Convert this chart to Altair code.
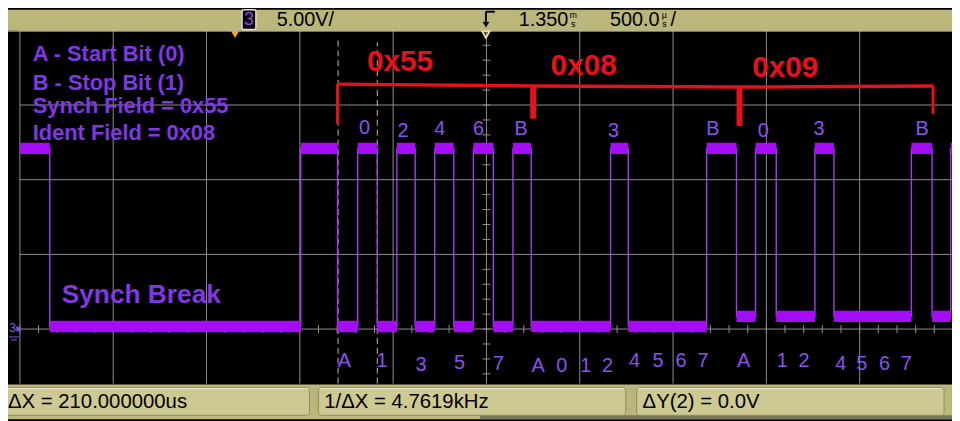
import altair as alt
import pandas as pd

# ---------------- data (time in microseconds, amplitude in volts) ----------------
seg_start = [-1150, -990, 355, 552, 660, 765, 870, 968, 1073, 1175, 1280, 1387,
             1492, 1590, 2015, 2110, 2530, 2690, 2792, 2903, 3110, 3212, 3627, 3738, 3838]
seg_end = [-990, 355, 552, 660, 765, 870, 968, 1073, 1175, 1280, 1387, 1492,
           1590, 2015, 2110, 2530, 2690, 2792, 2903, 3110, 3212, 3627, 3738, 3838, 3850]
seg_level = [12.1, 0.17, 12.1, 0.17, 12.1, 0.17, 12.1, 0.17, 12.1, 0.17, 12.1, 0.17,
             12.1, 0.17, 12.1, 0.17, 12.1, 0.85, 12.1, 0.85, 12.1, 0.85, 12.1, 0.85, 12.1]

grid_t = [-1150, -650, -150, 350, 850, 1350, 1850, 2350, 2850, 3350, 3850]
grid_v = [0, 5, 10, 15, 20]
cursor_t = [555, 765]

legend_text = ["A - Start Bit (0)", "B - Stop Bit (1)", "Synch Field = 0x55", "Ident Field = 0x08"]
legend_t = [-1081, -1081, -1081, -1081]
legend_v = [18.39, 16.47, 14.94, 13.15]

break_text = ["Synch Break"]
break_t = [-926]
break_v = [2.26]

top_lbl = ["0", "2", "4", "6", "B", "3", "B", "0", "3", "B"]
top_t = [696, 903, 1100, 1307, 1536, 2031, 2563, 2834, 3132, 3685]
top_v = [13.48, 13.28, 13.41, 13.41, 13.41, 13.28, 13.41, 13.28, 13.41, 13.41]

bot_lbl = ["A", "1", "3", "5", "7", "A", "0", "1", "2", "4", "5", "6", "7",
           "A", "1", "2", "4", "5", "6", "7"]
bot_t = [589, 791, 999, 1206, 1414, 1627, 1754, 1882, 1999, 2143, 2270, 2393, 2510,
         2728, 2935, 3052, 3249, 3361, 3483, 3600]
bot_v = [-2.12, -2.12, -2.39, -2.26, -2.32, -2.46, -2.46, -2.46, -2.46, -2.12, -2.12, -2.12, -2.12,
         -2.12, -2.12, -2.12, -2.32, -2.32, -2.32, -2.32]

hex_text = ["0x55", "0x08", "0x09"]
hex_t = [887, 1871, 2951]
hex_v = [17.86, 17.6, 17.5]

bracket_t = [552, 1600, 2706, 3743]
bracket_v = [16.4, 16.27, 16.2, 16.27]
bracket_end_v = [13.75, 14.08, 13.6, 14.4]

status_text = ["\u0394X = 210.000000us", "1/\u0394X = 4.7619kHz", "\u0394Y(2) = 0.0V"]

# ---------------- styling ----------------
X_DOM = [-1213.8, 3844.7]
Y_DOM = [-6.04, 21.38]
W, H = 952, 413

TRACE = "#a60df7"
EDGE = "#a23cf0"
LEG = "#7f38e3"
LBL = "#8a52f0"
RED = "#e8101a"
GRID = "#8f8f8f"
KHAKI = "#bbb77b"
BOX = "#cdc993"
NARROW = "Liberation Sans, Arial, sans-serif"
SANS = "Liberation Sans, Arial, sans-serif"

xs = alt.Scale(domain=X_DOM, nice=False, zero=False)
ys = alt.Scale(domain=Y_DOM, nice=False, zero=False)


def X(f):
    return alt.X(f, type="quantitative", scale=xs, axis=None)


def Y(f):
    return alt.Y(f, type="quantitative", scale=ys, axis=None)


one = pd.DataFrame({"k": [0]})


def rect(x1, x2, y1, y2, **kw):
    return alt.Chart(one).mark_rect(**kw).encode(
        x=alt.value(x1), x2=alt.value(x2), y=alt.value(y1), y2=alt.value(y2))


def rule(x1, y1, x2, y2, **kw):
    return alt.Chart(one).mark_rule(**kw).encode(
        x=alt.value(x1), x2=alt.value(x2), y=alt.value(y1), y2=alt.value(y2))


def txt(s, x, y, **kw):
    return alt.Chart(one).mark_text(text=s, **kw).encode(x=alt.value(x), y=alt.value(y))


def pt(x, y, **kw):
    return alt.Chart(one).mark_point(**kw).encode(x=alt.value(x), y=alt.value(y))


layers = []

# grid
vgrid = pd.DataFrame({"t": grid_t, "v1": [-3.65] * len(grid_t), "v2": [20] * len(grid_t)})
layers.append(alt.Chart(vgrid).mark_rule(color=GRID, strokeWidth=1).encode(
    x=X("t"), y=Y("v1"), y2="v2"))
hgrid = pd.DataFrame({"v": grid_v, "t1": [-1150] * len(grid_v), "t2": [3850] * len(grid_v)})
layers.append(alt.Chart(hgrid).mark_rule(color=GRID, strokeWidth=1).encode(
    y=Y("v"), x=X("t1"), x2="t2"))
htick = [grid_t[0] + 100 * k for k in range(51)]
htdf = pd.DataFrame({"t": htick, "v1": [-0.27] * len(htick), "v2": [0.27] * len(htick)})
layers.append(alt.Chart(htdf).mark_rule(color=GRID, strokeWidth=1).encode(
    x=X("t"), y=Y("v1"), y2="v2"))
vtick = list(range(-3, 21))
vtdf = pd.DataFrame({"v": vtick, "t1": [1329] * len(vtick), "t2": [1371] * len(vtick)})
layers.append(alt.Chart(vtdf).mark_rule(color=GRID, strokeWidth=1).encode(
    y=Y("v"), x=X("t1"), x2="t2"))

# cursors
cdf = pd.DataFrame({"t": cursor_t, "v1": [-3.65, -3.65], "v2": [19.5, 19.2]})
layers.append(alt.Chart(cdf).mark_rule(color="#f0c896", strokeWidth=1, strokeDash=[6, 4], opacity=0.9).encode(
    x=X("t"), y=Y("v1"), y2="v2"))

# trace
pts = []
for i, (a, b, lv) in enumerate(zip(seg_start, seg_end, seg_level)):
    pts.append({"i": 2 * i, "t": a, "v": lv})
    pts.append({"i": 2 * i + 1, "t": b, "v": lv})
layers.append(alt.Chart(pd.DataFrame(pts)).mark_line(color=EDGE, strokeWidth=1.4, clip=True).encode(
    x=X("t"), y=Y("v"), order="i:Q"))
bands = pd.DataFrame({"t1": seg_start, "t2": seg_end,
                      "lo": [v - 0.38 for v in seg_level], "hi": [v + 0.38 for v in seg_level]})
layers.append(alt.Chart(bands).mark_rect(color=TRACE, clip=True).encode(
    x=X("t1"), x2="t2", y=Y("lo"), y2="hi"))

# purple annotations
ldf = pd.DataFrame({"s": legend_text, "t": legend_t, "v": legend_v})
layers.append(alt.Chart(ldf).mark_text(font=SANS, fontWeight="bold", fontSize=22, color=LEG,
                                       align="left", baseline="middle").encode(
    x=X("t"), y=Y("v"), text="s:N"))
bdf = pd.DataFrame({"s": break_text, "t": break_t, "v": break_v})
layers.append(alt.Chart(bdf).mark_text(font=SANS, fontWeight="bold", fontSize=26.5, color=LEG,
                                       align="left", baseline="middle").encode(
    x=X("t"), y=Y("v"), text="s:N"))
tdf = pd.DataFrame({"s": top_lbl, "t": top_t, "v": top_v})
layers.append(alt.Chart(tdf).mark_text(font=SANS, fontSize=20, color=LBL,
                                       align="center", baseline="middle").encode(
    x=X("t"), y=Y("v"), text="s:N"))
btdf = pd.DataFrame({"s": bot_lbl, "t": bot_t, "v": bot_v})
layers.append(alt.Chart(btdf).mark_text(font=SANS, fontSize=20, color=LBL,
                                        align="center", baseline="middle").encode(
    x=X("t"), y=Y("v"), text="s:N"))

# red annotations
rdf = pd.DataFrame({"t": bracket_t, "v": bracket_v})
layers.append(alt.Chart(rdf).mark_line(color=RED, strokeWidth=3.5).encode(x=X("t"), y=Y("v")))
tk = pd.DataFrame({"t": bracket_t, "v1": bracket_v, "v2": bracket_end_v})
layers.append(alt.Chart(tk.iloc[[0, 3]]).mark_rule(color=RED, strokeWidth=3).encode(
    x=X("t"), y=Y("v1"), y2="v2"))
layers.append(alt.Chart(tk.iloc[[1, 2]]).mark_rule(color=RED, strokeWidth=6).encode(
    x=X("t"), y=Y("v1"), y2="v2"))
hdf = pd.DataFrame({"s": hex_text, "t": hex_t, "v": hex_v})
layers.append(alt.Chart(hdf).mark_text(font=SANS, fontWeight="bold", fontSize=30, color=RED,
                                       align="center", baseline="middle").encode(
    x=X("t"), y=Y("v"), text="s:N"))

# ground marker on the left
layers.append(txt("3", 1, 321, font=SANS, fontSize=13, color=LBL, align="left", baseline="middle"))
layers.append(pt(11, 322, shape="triangle-right", size=35, filled=True, color=LBL, opacity=1))
layers.append(rule(1, 330, 11, 330, color=LBL, strokeWidth=1))
layers.append(rule(3, 333, 9, 333, color=LBL, strokeWidth=1))

# top status bar
layers.append(rect(0, W, 0, 21, color=KHAKI))
layers.append(rule(0, 21.5, W, 21.5, color="#dcd8a8", strokeWidth=1))
layers.append(rect(236, 250, 0, 20, color="#000000", stroke="#e0e0d0", strokeWidth=1.5, cornerRadius=2))
layers.append(txt("3", 243, 10, font=NARROW, fontSize=18, color="#9a40f0", align="center", baseline="middle"))
layers.append(txt("5.00V/", 271, 10, font=NARROW, fontSize=20, color="#000000", align="left", baseline="middle"))
layers.append(txt("1.350", 515, 10, font=NARROW, fontSize=20, color="#000000", align="left", baseline="middle"))
layers.append(txt("m", 570, 5, font=NARROW, fontSize=9, color="#000000", align="center", baseline="middle"))
layers.append(txt("s", 570, 14, font=NARROW, fontSize=9, color="#000000", align="center", baseline="middle"))
layers.append(txt("500.0", 607, 10, font=NARROW, fontSize=20, color="#000000", align="left", baseline="middle"))
layers.append(txt("\u00b5", 662, 5, font=NARROW, fontSize=9, color="#000000", align="center", baseline="middle"))
layers.append(txt("s", 662, 14, font=NARROW, fontSize=9, color="#000000", align="center", baseline="middle"))
layers.append(txt("/", 668, 10, font=NARROW, fontSize=20, color="#000000", align="left", baseline="middle"))
layers.append(rule(482, 2, 491, 2, color="#000000", strokeWidth=2))
layers.append(rule(482, 2, 482, 12, color="#000000", strokeWidth=2))
layers.append(pt(482, 15, shape="triangle-down", size=45, filled=True, color="#000000", opacity=1))
layers.append(pt(229, 25, shape="triangle-down", size=70, filled=True, color="#f5a030", opacity=1))
layers.append(pt(482, 25, shape="triangle-down", size=55, filled=False, color="#e8d8a0", opacity=1))

# bottom status bar
layers.append(rect(0, W, 378, H, color=KHAKI))
layers.append(rect(476, W, 409, H, color="#7a775a"))
for (x1, x2), s in zip([(-5, 304), (313, 623), (634, 944)], status_text):
    layers.append(rect(x1, x2, 381, 409, color=BOX, stroke="#8e8a62", strokeWidth=1, cornerRadius=3))
    layers.append(rule(x1 + 2, 382, x2 - 2, 382, color="#eeeacb", strokeWidth=1))
    layers.append(txt(s, x1 + 6 if x1 > 0 else 0, 396, font=NARROW, fontSize=20.5, color="#000000",
                      align="left", baseline="middle"))

chart = alt.layer(*layers).properties(
    width=W, height=H, padding=0,
    autosize=alt.AutoSizeParams(type="none"),
    background="#000000",
).configure_view(strokeWidth=0)

chart.save("out.html", embed_options={"renderer": "svg", "actions": False})
